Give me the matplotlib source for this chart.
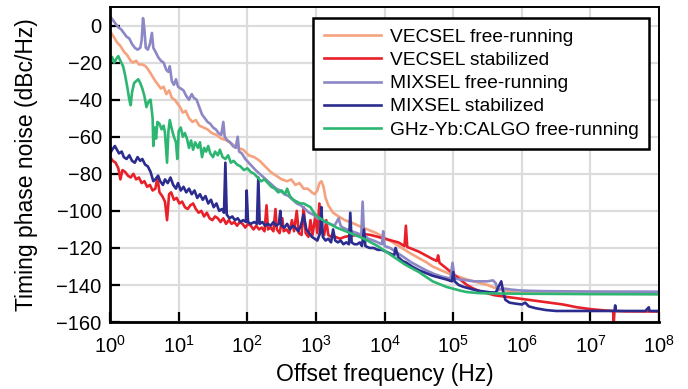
import numpy as np
import matplotlib
matplotlib.use("Agg")
import matplotlib.pyplot as plt

# values: log10(offset frequency / Hz) and dBc/Hz
vecsel_free_lf = [0.00, 0.05, 0.10, 0.15, 0.20, 0.25, 0.30, 0.33, 0.38, 0.42, 0.47, 0.52, 0.56, 0.61,
                  0.66, 0.70, 0.74, 0.78, 0.82, 0.86, 0.90, 0.94, 0.98, 1.02, 1.06, 1.10, 1.15, 1.20,
                  1.25, 1.30, 1.36, 1.42, 1.48, 1.55, 1.62, 1.70, 1.78, 1.86, 1.94, 2.02, 2.10, 2.18,
                  2.26, 2.34, 2.42, 2.50, 2.58, 2.64, 2.70, 2.76, 2.82, 2.88, 2.94, 2.98, 3.02, 3.05,
                  3.08, 3.11, 3.14, 3.18, 3.25, 3.33, 3.42, 3.50, 3.62, 3.75, 3.88, 4.00, 4.12, 4.25,
                  4.38, 4.50, 4.60, 4.70, 4.82, 4.95, 5.08, 5.20, 5.30, 5.40, 5.50, 5.60, 5.70, 5.80,
                  5.90, 6.00, 6.50, 7.00, 7.50, 8.00]
vecsel_free_db = [-3, -6, -9, -11, -14, -16, -19, -20, -19, -21, -21, -22, -24, -27,
                  -30, -32, -34, -33, -37, -35, -39, -40, -42, -44, -47, -46, -50, -52,
                  -51, -54, -55, -56, -58, -59, -61, -62, -64, -66, -67, -70, -71, -73,
                  -76, -79, -81, -83, -84, -83, -86, -85, -88, -88, -90, -91, -89, -85,
                  -84, -87, -93, -97, -101, -103, -105, -106, -108, -110, -112, -114.5, -117, -120,
                  -123, -125.5, -127.5, -130, -132, -134, -135.5, -137, -138, -139, -140, -141.5, -142.5, -143.5,
                  -144, -144.5, -144.6, -144.7, -144.7, -144.8]

vecsel_stab_lf = [0.00, 0.04, 0.08, 0.12, 0.15, 0.18, 0.22, 0.26, 0.30, 0.34, 0.38, 0.42, 0.46, 0.50,
                  0.54, 0.58, 0.62, 0.66, 0.69, 0.72, 0.76, 0.80, 0.83, 0.86, 0.89, 0.93, 0.97, 1.01,
                  1.05, 1.09, 1.13, 1.17, 1.21, 1.25, 1.29, 1.33, 1.37, 1.41, 1.45, 1.49, 1.53, 1.57,
                  1.61, 1.65, 1.69, 1.73, 1.77, 1.81, 1.85, 1.89, 1.93, 1.97, 2.01, 2.05, 2.09, 2.13,
                  2.17, 2.21, 2.25, 2.28, 2.30, 2.34, 2.38, 2.41, 2.43, 2.47, 2.51, 2.53, 2.57, 2.61,
                  2.65, 2.68, 2.72, 2.75, 2.79, 2.82, 2.85, 2.89, 2.92, 2.95, 2.99, 3.02, 3.05, 3.08,
                  3.12, 3.15, 3.18, 3.22, 3.28, 3.35, 3.42, 3.50, 3.60, 3.70, 3.80, 3.90, 4.00, 4.10,
                  4.20, 4.29, 4.31, 4.33, 4.40, 4.50, 4.60, 4.70, 4.76, 4.78, 4.80, 4.90, 5.00, 5.10,
                  5.20, 5.30, 5.40, 5.50, 5.60, 5.70, 5.80, 5.90, 6.00, 6.20, 6.40, 6.60, 6.80, 7.00,
                  7.20, 7.33, 7.34, 7.35, 7.50, 8.00]
vecsel_stab_db = [-71, -73, -74, -77, -83, -78, -79, -81, -82, -80, -83, -82, -85, -84,
                  -87, -86, -89, -88, -82, -90, -92, -95, -105, -91, -90, -94, -93, -96,
                  -95, -98, -99, -97, -96, -99, -101, -100, -103, -101, -104, -105, -103, -104,
                  -106, -104, -107, -105, -107, -106, -108, -106, -107, -109, -107, -108, -110, -108,
                  -110, -109, -111, -97, -110, -109, -111, -99, -110, -112, -104, -111, -110, -112,
                  -105, -111, -100, -112, -113, -98, -112, -114, -105, -113, -103, -112, -96, -110,
                  -113, -105, -113, -114, -114, -115, -114, -113.5, -113, -112.5, -113, -114, -115, -116,
                  -117, -119, -108, -119.5, -120.5, -122, -124, -126, -127, -124, -128, -131, -134, -137,
                  -140, -142, -143.5, -144.5, -145.5, -146, -146.5, -147, -147.5, -148.5, -149.5, -150.5, -152, -153,
                  -153.7, -154, -160, -154, -154.2, -154.3]

mixsel_free_lf = [0.00, 0.04, 0.08, 0.12, 0.16, 0.20, 0.24, 0.28, 0.32, 0.36, 0.40, 0.44, 0.46, 0.48,
                  0.50, 0.52, 0.55, 0.58, 0.61, 0.63, 0.66, 0.70, 0.74, 0.78, 0.82, 0.85, 0.87, 0.90,
                  0.93, 0.96, 0.99, 1.03, 1.07, 1.11, 1.15, 1.19, 1.22, 1.26, 1.30, 1.34, 1.38, 1.42,
                  1.46, 1.50, 1.54, 1.58, 1.62, 1.65, 1.67, 1.71, 1.75, 1.79, 1.83, 1.86, 1.88, 1.92,
                  1.97, 2.02, 2.07, 2.12, 2.18, 2.24, 2.30, 2.36, 2.42, 2.48, 2.54, 2.60, 2.66, 2.72,
                  2.78, 2.84, 2.90, 2.96, 3.02, 3.08, 3.14, 3.20, 3.27, 3.33, 3.36, 3.39, 3.45, 3.52,
                  3.60, 3.66, 3.68, 3.70, 3.76, 3.84, 3.90, 3.96, 3.98, 4.00, 4.08, 4.16, 4.24, 4.32,
                  4.40, 4.50, 4.60, 4.72, 4.84, 4.96, 4.99, 5.02, 5.10, 5.20, 5.30, 5.40, 5.50, 5.58,
                  5.62, 5.65, 5.70, 5.76, 5.85, 6.00, 6.30, 7.00, 8.00]
mixsel_free_db = [5, 3, 1, -1, -2, -4, -6, -7, -10, -12, -13, -12, -8, 4,
                  -2, -12, -13, -10, -4, -12, -14, -17, -19, -20, -24, -25, -22, -30,
                  -32, -29, -33, -34, -35, -38, -40, -37, -39, -40, -44, -48, -50, -52,
                  -53, -55, -56, -58, -59, -52, -60, -62, -63, -65, -66, -60, -68, -69,
                  -72, -74, -76, -78, -80, -82, -84, -86, -88, -89, -91, -92, -94, -96,
                  -97, -99, -101, -102, -104, -105, -106, -107, -108, -104, -108, -109, -110, -111,
                  -112, -113, -95, -113, -115, -116, -117, -118, -111, -119, -120, -122, -124, -126,
                  -128, -130, -132, -134, -135.5, -136.5, -128, -136.5, -137, -137.5, -138, -138, -138, -137.5,
                  -139, -143, -142, -142, -142.5, -143, -143.3, -143.5, -143.6]

mixsel_stab_lf = [0.00, 0.03, 0.07, 0.10, 0.13, 0.17, 0.20, 0.24, 0.28, 0.32, 0.36, 0.40, 0.44, 0.47,
                  0.51, 0.55, 0.59, 0.63, 0.66, 0.70, 0.73, 0.77, 0.80, 0.84, 0.88, 0.92, 0.96, 0.99,
                  1.03, 1.07, 1.11, 1.15, 1.19, 1.23, 1.27, 1.31, 1.35, 1.39, 1.43, 1.47, 1.51, 1.55,
                  1.59, 1.63, 1.66, 1.68, 1.70, 1.74, 1.78, 1.82, 1.86, 1.90, 1.94, 1.98, 1.99, 2.01,
                  2.05, 2.10, 2.14, 2.16, 2.18, 2.22, 2.26, 2.30, 2.34, 2.38, 2.42, 2.46, 2.48, 2.50,
                  2.54, 2.58, 2.62, 2.66, 2.70, 2.74, 2.78, 2.82, 2.86, 2.90, 2.94, 2.98, 3.02, 3.06,
                  3.08, 3.10, 3.14, 3.18, 3.22, 3.25, 3.28, 3.32, 3.36, 3.40, 3.44, 3.48, 3.50, 3.52,
                  3.56, 3.60, 3.64, 3.67, 3.70, 3.72, 3.78, 3.84, 3.90, 3.96, 4.02, 4.08, 4.14, 4.16,
                  4.20, 4.26, 4.32, 4.40, 4.50, 4.60, 4.70, 4.80, 4.90, 4.98, 5.00, 5.02, 5.08, 5.15,
                  5.25, 5.35, 5.45, 5.55, 5.62, 5.66, 5.70, 5.73, 5.76, 5.82, 5.90, 6.00, 6.05, 6.10,
                  6.20, 6.35, 6.50, 7.00, 7.35, 7.36, 7.37, 7.80, 7.85, 7.86, 8.00]
mixsel_stab_db = [-69, -67, -65, -67, -69, -68, -71, -72, -70, -73, -74, -71, -73, -72,
                  -75, -76, -79, -84, -83, -81, -84, -86, -83, -85, -82, -86, -88, -85,
                  -89, -87, -90, -88, -91, -89, -93, -91, -94, -92, -96, -94, -98, -96,
                  -100, -99, -101, -74, -102, -104, -103, -105, -104, -106, -105, -106, -89, -106,
                  -107, -106, -107, -82, -107, -106, -108, -107, -108, -106, -108, -107, -100, -108,
                  -109, -107, -110, -108, -109, -111, -108, -102, -110, -112, -114, -115, -116, -112,
                  -98, -114, -116, -115, -117, -110, -116, -117, -116, -118, -117, -118, -101, -117,
                  -118, -118, -117, -119, -110, -119, -120, -120, -121, -121, -122, -123, -124, -120,
                  -125, -127, -128, -130, -132, -133.5, -135, -136, -137, -138, -133, -138, -140, -141,
                  -142, -143, -143.5, -144, -144, -141, -138, -144, -148, -149.5, -150, -150.5, -149.5, -151.5,
                  -152.5, -153.5, -154, -154, -154, -151, -154, -154, -152, -154, -154]

calgo_free_lf = [0.00, 0.03, 0.06, 0.09, 0.12, 0.15, 0.19, 0.22, 0.25, 0.28, 0.30, 0.32, 0.35, 0.38,
                 0.41, 0.44, 0.47, 0.50, 0.53, 0.56, 0.59, 0.62, 0.63, 0.65, 0.67, 0.69, 0.72, 0.75,
                 0.78, 0.80, 0.83, 0.85, 0.87, 0.90, 0.93, 0.96, 0.98, 1.00, 1.03, 1.06, 1.09, 1.12,
                 1.15, 1.18, 1.21, 1.24, 1.28, 1.31, 1.34, 1.37, 1.40, 1.43, 1.46, 1.50, 1.53, 1.57,
                 1.60, 1.64, 1.68, 1.72, 1.76, 1.80, 1.85, 1.90, 1.95, 2.00, 2.05, 2.10, 2.15, 2.20,
                 2.25, 2.30, 2.35, 2.40, 2.45, 2.50, 2.55, 2.58, 2.62, 2.67, 2.72, 2.77, 2.82, 2.87,
                 2.92, 2.97, 3.02, 3.10, 3.20, 3.30, 3.40, 3.50, 3.60, 3.70, 3.80, 3.90, 4.00, 4.10,
                 4.20, 4.30, 4.40, 4.50, 4.60, 4.70, 4.80, 4.90, 5.00, 5.10, 5.20, 5.35, 5.50, 6.00,
                 7.00, 8.00]
calgo_free_db = [-18, -17, -20, -18, -16.5, -19, -22, -27, -33, -40, -43, -36, -31, -30,
                 -29, -31, -34, -38, -44, -41, -40, -50, -65, -55, -61, -52, -53, -56,
                 -54, -58, -74, -57, -51, -56, -60, -63, -72, -57, -55, -60, -58, -61,
                 -66, -62, -67, -63, -66, -63, -71, -66, -68, -65, -69, -71, -68, -70,
                 -67, -71, -72, -70, -74, -73, -75, -76, -78, -77, -79, -80, -82, -84,
                 -83, -85, -87, -88, -90, -89, -91, -88, -92, -94, -95, -96, -96, -97,
                 -98, -101, -103, -105, -107, -109, -110.5, -112, -113.5, -115, -117, -119, -121.5, -124,
                 -126.5, -129, -131, -133, -135.5, -138, -139.5, -141, -142, -143, -143.8, -144.3, -144.5, -144.7,
                 -144.9, -145]

series = [
    ("VECSEL free-running", vecsel_free_lf, vecsel_free_db, "#f5a27f"),
    ("VECSEL stabilized", vecsel_stab_lf, vecsel_stab_db, "#e8202a"),
    ("MIXSEL free-running", mixsel_free_lf, mixsel_free_db, "#8c87c5"),
    ("MIXSEL stabilized", mixsel_stab_lf, mixsel_stab_db, "#2b2c8e"),
    ("GHz-Yb:CALGO free-running", calgo_free_lf, calgo_free_db, "#2db672"),
]

plt.rcParams['font.family'] = ['Liberation Sans', 'DejaVu Sans']
plt.rcParams['mathtext.fontset'] = 'custom'
plt.rcParams['mathtext.rm'] = 'Liberation Sans'
plt.rcParams['mathtext.it'] = 'Liberation Sans:italic'

fig = plt.figure(figsize=(6.88, 3.89), dpi=100)
ax = fig.add_axes([0.160, 0.172, 0.798, 0.810])

for label, lf, db, col in series:
    ax.plot(10.0 ** np.array(lf), db, color=col, lw=1.9, label=label)

ax.set_xscale('log')
ax.set_xlim(1, 1e8)
ax.set_ylim(-160, 10)
ax.set_xticks([10.0 ** k for k in range(9)])
ax.xaxis.set_minor_locator(matplotlib.ticker.NullLocator())
ax.set_yticks(np.arange(-160, 1, 20))
ax.grid(True, color='#dcdcdc', lw=1.6)
ax.set_axisbelow(True)
ax.tick_params(direction='in', length=7, width=1.6, labelsize=14.5)
ax.tick_params(axis='x', pad=9)
ax.tick_params(axis='y', pad=6)
for side in ['left', 'bottom']:
    ax.spines[side].set_linewidth(2.0)
for side in ['top', 'right']:
    ax.spines[side].set_linewidth(1.4)

ax.set_xlabel('Offset frequency (Hz)', fontsize=16.5, labelpad=5)
ax.set_ylabel('Timing phase noise (dBc/Hz)', fontsize=16.5, labelpad=13)

leg = ax.legend(loc='upper right', bbox_to_anchor=(0.982, 0.965), fontsize=13.8,
                frameon=True, fancybox=False, framealpha=1, edgecolor='black',
                handlelength=3.0, handletextpad=0.45, labelspacing=0.3, borderpad=0.55,
                borderaxespad=0.0)
leg.get_frame().set_linewidth(1.8)

plt.savefig('out.png', dpi=100)
